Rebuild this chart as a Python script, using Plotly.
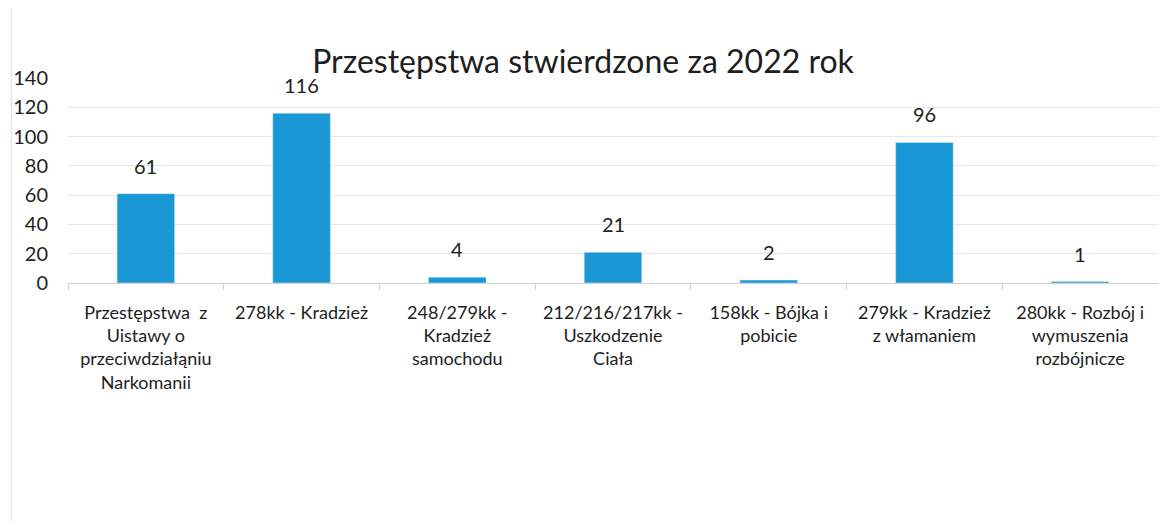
import plotly.graph_objects as go

categories = [
    "Przestępstwa  z<br>Uistawy o<br>przeciwdziałąniu<br>Narkomanii",
    "278kk - Kradzież",
    "248/279kk -<br>Kradzież<br>samochodu",
    "212/216/217kk -<br>Uszkodzenie<br>Ciała",
    "158kk - Bójka i<br>pobicie",
    "279kk - Kradzież<br>z włamaniem",
    "280kk - Rozbój i<br>wymuszenia<br>rozbójnicze",
]
values = [61, 116, 4, 21, 2, 96, 1]
title_text = "Przestępstwa stwierdzone za 2022 rok"
y_ticks = [0, 20, 40, 60, 80, 100, 120, 140]

FONT = "Lato, Open Sans, sans-serif"
BAR = "#1a98d6"
TXT = "#1e1e1e"

fig = go.Figure()
fig.add_trace(go.Bar(
    x=categories, y=values, marker_color=BAR, width=0.37,
    hoverinfo="x+y",
))
for c, v in zip(categories, values):
    fig.add_annotation(x=c, y=v, text=str(v), showarrow=False, yshift=28,
                       font=dict(size=20, color=TXT, family=FONT))

fig.update_layout(
    width=1150, height=513,
    paper_bgcolor="white", plot_bgcolor="white",
    margin=dict(l=60, r=0, t=70, b=238),
    title=dict(text=title_text, x=0.5, xanchor="center", y=0.895, yanchor="middle",
               font=dict(size=32, color=TXT, family=FONT)),
    font=dict(family=FONT, color=TXT),
    showlegend=False,
    xaxis=dict(
        type="category", showgrid=False, showline=True, linecolor="#d0d0d0",
        ticks="outside", tickson="boundaries", ticklen=6, tickcolor="#d0d0d0",
        tickfont=dict(size=18, color=TXT, family=FONT),
        tickangle=0, ticklabelstandoff=13,
    ),
    yaxis=dict(
        range=[0, 140], tickvals=y_ticks, showgrid=True, gridcolor="#e6e6e6",
        zeroline=False, showline=False, ticks="", ticklabelstandoff=19,
        tickfont=dict(size=20, color=TXT, family=FONT),
    ),
)
fig.add_shape(type="line", xref="paper", yref="paper", x0=-0.052, x1=-0.052, y0=-1.2, y1=1.4,
              line=dict(color="#e2e2e2", width=1))

fig.write_html("out.html")
